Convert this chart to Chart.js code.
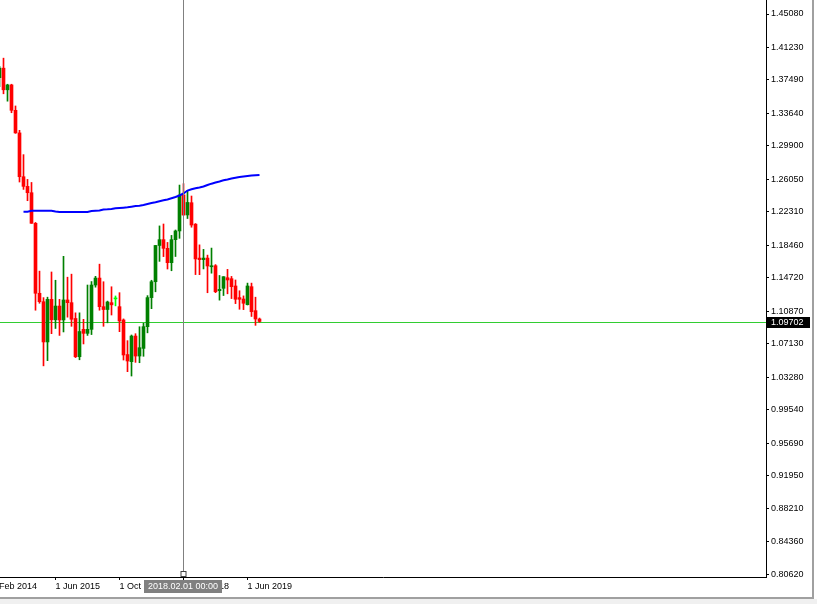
<!DOCTYPE html>
<html><head><meta charset="utf-8">
<script src="https://cdn.jsdelivr.net/npm/chart.js@4.4.0/dist/chart.umd.min.js"></script>
<style>html,body{margin:0;padding:0;background:#fff;overflow:hidden}canvas{display:block}</style>
</head><body>
<canvas id="c" width="817" height="604"></canvas>
<script>
// ---- data (monthly bars, Apr 2014 .. Sep 2019) ----
const months = ['Apr 2014','May 2014','Jun 2014','Jul 2014','Aug 2014','Sep 2014','Oct 2014','Nov 2014','Dec 2014',
 'Jan 2015','Feb 2015','Mar 2015','Apr 2015','May 2015','Jun 2015','Jul 2015','Aug 2015','Sep 2015','Oct 2015','Nov 2015','Dec 2015',
 'Jan 2016','Feb 2016','Mar 2016','Apr 2016','May 2016','Jun 2016','Jul 2016','Aug 2016','Sep 2016','Oct 2016','Nov 2016','Dec 2016',
 'Jan 2017','Feb 2017','Mar 2017','Apr 2017','May 2017','Jun 2017','Jul 2017','Aug 2017','Sep 2017','Oct 2017','Nov 2017','Dec 2017',
 'Jan 2018','Feb 2018','Mar 2018','Apr 2018','May 2018','Jun 2018','Jul 2018','Aug 2018','Sep 2018','Oct 2018','Nov 2018','Dec 2018',
 'Jan 2019','Feb 2019','Mar 2019','Apr 2019','May 2019','Jun 2019','Jul 2019','Aug 2019','Sep 2019'];
const opens = [1.3775,1.3885,1.3636,1.3692,1.3400,1.3140,1.2636,1.2525,1.2452,
 1.2100,1.1295,1.1198,1.0735,1.1225,1.0990,1.1148,1.0988,1.1218,1.1187,1.1005,1.0565,
 1.0880,1.0834,1.0880,1.1390,1.1470,1.1141,1.1108,1.1187,1.1230,1.1141,1.0988,1.0590,
 1.0508,1.0803,1.0573,1.0661,1.0911,1.1245,1.1428,1.1845,1.1912,1.1812,1.1647,1.1912,
 1.2012,1.2426,1.2196,1.2337,1.2090,1.1700,1.1682,1.1700,1.1600,1.1612,1.1325,1.1352,
 1.1474,1.1463,1.1379,1.1245,1.1229,1.1164,1.1371,1.1095,1.0999];
const highs = [1.3905,1.4000,1.3700,1.3700,1.3450,1.3170,1.2890,1.2605,1.2570,
 1.2110,1.1550,1.1245,1.1250,1.1540,1.1445,1.1225,1.1720,1.1480,1.1515,1.1070,1.1070,
 1.0995,1.1390,1.1430,1.1490,1.1630,1.1428,1.1205,1.1370,1.1264,1.1302,1.1000,1.0750,
 1.0815,1.0830,1.0910,1.0950,1.1268,1.1445,1.1846,1.2070,1.2092,1.1880,1.1961,1.2023,
 1.2540,1.2556,1.2476,1.2414,1.2097,1.1852,1.1800,1.1734,1.1815,1.1625,1.1500,1.1486,
 1.1570,1.1489,1.1448,1.1324,1.1265,1.1412,1.1412,1.1250,1.1010];
const lows = [1.3673,1.3590,1.3505,1.3372,1.3135,1.2575,1.2490,1.2360,1.2100,
 1.1100,1.1180,1.0460,1.0520,1.0830,1.0890,1.0810,1.0850,1.1020,1.0915,1.0555,1.0530,
 1.0712,1.0810,1.0820,1.1365,1.1100,1.0915,1.0955,1.1045,1.1150,1.0853,1.0527,1.0393,
 1.0343,1.0500,1.0496,1.0570,1.0840,1.1118,1.1312,1.1662,1.1717,1.1574,1.1554,1.1718,
 1.1927,1.2190,1.2155,1.2055,1.1510,1.1509,1.1575,1.1301,1.1526,1.1302,1.1216,1.1269,
 1.1289,1.1234,1.1176,1.1111,1.1107,1.1160,1.1028,1.0926,1.0960];
const closes = [1.3885,1.3636,1.3692,1.3400,1.3140,1.2636,1.2525,1.2452,1.2100,
 1.1295,1.1198,1.0735,1.1225,1.0990,1.1148,1.0988,1.1218,1.1187,1.0996,1.0565,1.0855,
 1.0834,1.0880,1.1390,1.1470,1.1141,1.1108,1.1195,1.1162,1.1230,1.0976,1.0585,1.0516,
 1.0803,1.0573,1.0669,1.0911,1.1245,1.1428,1.1845,1.1912,1.1812,1.1647,1.1912,1.2012,
 1.2426,1.2196,1.2340,1.2080,1.1690,1.1682,1.1700,1.1609,1.1612,1.1313,1.1340,1.1486,
 1.1448,1.1371,1.1226,1.1226,1.1180,1.1379,1.1083,1.0999,1.09702];
// moving average, first value on bar index 6 (Oct 2014)
const maStartIndex = 6;
const maValues = [1.2234,1.2234,1.2245,1.2245,1.2245,1.2245,1.2245,1.2245,
 1.2236,1.2230,1.2230,1.2230,1.2230,1.2230,1.2230,1.2230,1.2230,
 1.2242,1.2245,1.2247,1.2259,1.2261,1.2265,1.2273,1.2276,1.2280,1.2284,1.2291,1.2299,1.2303,
 1.2311,1.2322,1.2334,1.2342,1.2353,1.2365,1.2374,1.2388,1.2403,1.2420,1.2443,1.2477,1.2491,
 1.2503,1.2512,1.2523,1.2541,1.2556,1.2569,1.2581,1.2595,1.2604,1.2616,1.2625,1.2633,1.2639,
 1.2644,1.2650,1.2653,1.2656];
const priceTicks = [1.45080,1.41230,1.37490,1.33640,1.29900,1.26050,1.22310,1.18460,1.14720,
 1.10870,1.07130,1.03280,0.99540,0.95690,0.91950,0.88210,0.84360,0.80620];
const dateTickIndex = [-2,14,30,46,62];
const dateTickLabels = ['1 Feb 2014','1 Jun 2015','1 Oct 2016','1 Feb 2018','1 Jun 2019'];
const bidPrice = 1.09702;
const crossIndex = 46;
const crossLabel = '2018.02.01 00:00';

// ---- styles ----
const UP = '#008000', DOWN = '#ff0000', DOJI = '#00ff00';
const FONT = '"Liberation Sans", Arial, sans-serif';
const candleColor = opens.map((o,i)=> closes[i] > o ? UP : (closes[i] < o ? DOWN : DOJI));

const wickData = months.map((m,i)=>({x:i, y:[lows[i], highs[i]]}));
const bodyData = months.map((m,i)=>({x:i, y:[opens[i], closes[i]]}));
const maData = maValues.map((v,k)=>({x:maStartIndex+k, y:v}));

const overlay = {
  id:'overlay',
  beforeDatasetsDraw(chart){
    const {ctx, chartArea:a, scales:{y}} = chart;
    const by = Math.round(y.getPixelForValue(bidPrice)) + 0.5;
    ctx.save();
    ctx.strokeStyle = '#32cd32'; ctx.lineWidth = 1;
    ctx.beginPath(); ctx.moveTo(a.left, by); ctx.lineTo(a.right, by); ctx.stroke();
    ctx.restore();
  },
  afterDraw(chart){
    const {ctx, chartArea:a, scales:{x,y}} = chart;
    ctx.save();
    // crosshair
    const cx = Math.floor(x.getPixelForValue(crossIndex)) + 0.5;
    ctx.strokeStyle = '#808080'; ctx.lineWidth = 1;
    ctx.beginPath(); ctx.moveTo(cx, a.top); ctx.lineTo(cx, a.bottom - 5); ctx.stroke();
    ctx.fillStyle = '#fff'; ctx.fillRect(cx-2.5, a.bottom-5.5, 5, 5);
    ctx.strokeStyle = '#404040'; ctx.strokeRect(cx-2.5, a.bottom-5.5, 5, 5);
    // date label box
    ctx.font = '9px ' + FONT;
    const tw = ctx.measureText(crossLabel).width;
    const bx = Math.round(cx - (tw+8)/2);
    ctx.fillStyle = '#808080'; ctx.fillRect(bx, a.bottom+3, Math.round(tw+8), 13);
    ctx.fillStyle = '#fff'; ctx.textBaseline = 'middle'; ctx.textAlign = 'left';
    ctx.fillText(crossLabel, bx+4, a.bottom+9.5);
    // bid label
    const by = Math.round(y.getPixelForValue(bidPrice));
    ctx.fillStyle = '#000'; ctx.fillRect(a.right+1, by-5, 43, 11);
    ctx.fillStyle = '#fff'; ctx.fillText(bidPrice.toFixed(5), a.right+5, by+0.5);
    // window frame
    ctx.fillStyle = '#a0a0a0'; ctx.fillRect(812, 0, 2, 599);
    ctx.fillRect(0, 597, 814, 2);
    ctx.fillStyle = '#f0f0f0'; ctx.fillRect(0, 599, 817, 5);
    ctx.restore();
  }
};

new Chart(document.getElementById('c'), {
  type: 'bar',
  data: { datasets: [
    { type:'line', data: maData, borderColor:'#0000ff', borderWidth:2, pointRadius:0, tension:0, order:0 },
    { data: bodyData, backgroundColor: candleColor, barThickness:3, minBarLength:1, grouped:false, borderWidth:0, order:1 },
    { data: wickData, backgroundColor: candleColor, barThickness:1, grouped:false, borderWidth:0, order:2 }
  ]},
  options: {
    responsive:false, animation:false, devicePixelRatio:1, events:[],
    layout:{ autoPadding:false, padding:{ left:0, top:0, right:5, bottom:6 } },
    plugins:{ legend:{display:false}, tooltip:{enabled:false} },
    scales:{
      x:{ type:'linear', position:'bottom', min:0.125, max:191.625, offset:false,
          afterBuildTicks:(s)=>{ s.ticks = dateTickIndex.map(v=>({value:v})); },
          afterFit:(s)=>{ s.height = 21; s.paddingLeft = 0; s.paddingRight = 0; },
          grid:{ offset:false, drawOnChartArea:false, drawTicks:true, tickLength:3, color:'#000' },
          border:{ display:true, color:'#000', width:1 },
          ticks:{ autoSkip:false, maxRotation:0, align:'start', labelOffset:0, padding:1, color:'#000',
                  font:{ family:FONT, size:9 },
                  callback:(v)=>{ const k = dateTickIndex.indexOf(v); return k>=0 ? dateTickLabels[k] : ''; } } },
      y:{ type:'linear', position:'right', min:0.80308, max:1.46691,
          afterBuildTicks:(s)=>{ s.ticks = priceTicks.map(v=>({value:v})); },
          afterFit:(s)=>{ s.width = 46; s.paddingTop = 0; s.paddingBottom = 0; },
          grid:{ drawOnChartArea:false, drawTicks:true, tickLength:3, color:'#000' },
          border:{ display:true, color:'#000', width:1 },
          ticks:{ autoSkip:false, padding:2, color:'#000', font:{ family:FONT, size:9 },
                  callback:(v)=> Number(v).toFixed(5) } }
    }
  },
  plugins:[overlay]
});
</script>
</body></html>
